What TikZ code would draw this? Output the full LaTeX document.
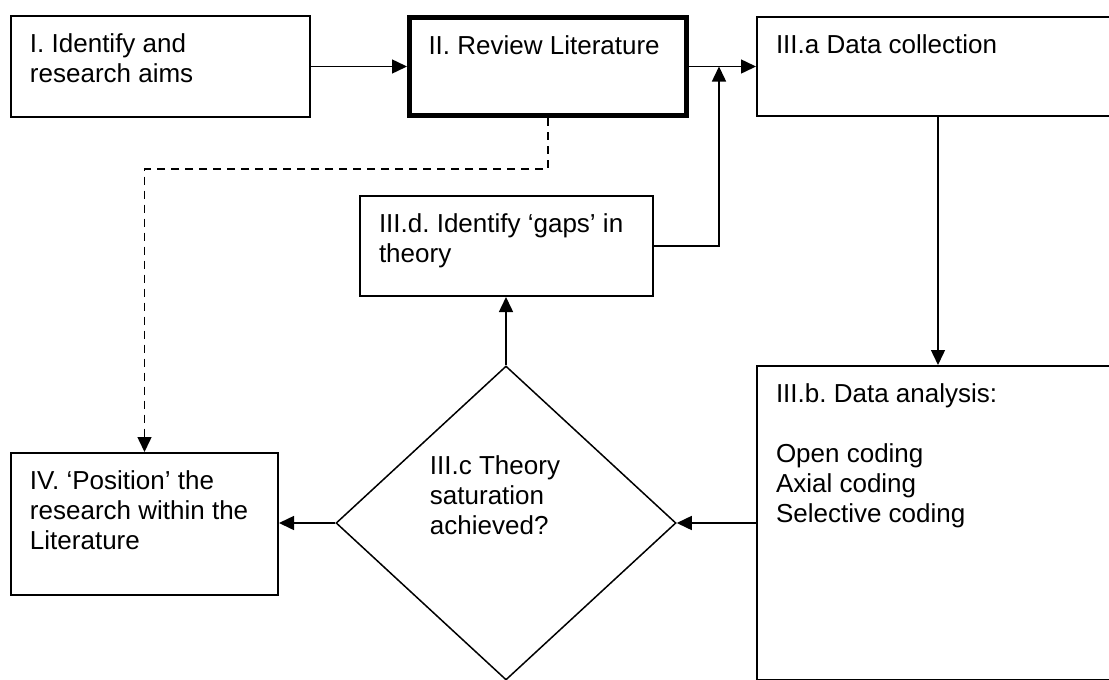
\documentclass[tikz,border=0pt]{standalone}
\usepackage{fontspec}
\setmainfont{Liberation Sans}
\usetikzlibrary{shapes.geometric,arrows.meta}
\frenchspacing
\newcommand{\boxtxt}[3]{\parbox[t][#2][t]{#1}{\raggedright #3}}

\begin{document}
\begin{tikzpicture}[x=1pt,y=-1pt,
  font=\fontsize{26}{30}\selectfont,
  >={Triangle[length=15pt,width=14pt]},
  stepbox/.style={draw,line width=2pt,anchor=north west,inner xsep=19pt,inner ysep=18pt},
  decision/.style={draw,diamond,line width=1.5pt,inner sep=0pt,
   minimum width=340pt,minimum height=314pt},
  flow/.style={->,line width=1.5pt}]
  \useasboundingbox (0,0) rectangle (1109,680);
  \clip (0,0) rectangle (1109,680);
  \node[stepbox] (aims) at (10,15) 
   {\boxtxt{261pt}{65pt}{I. Identify and\\research aims}};
  \node[stepbox,line width=5pt] (lit) at (407,15) 
   {\boxtxt{239pt}{62pt}{II. Review Literature}};
  \node[stepbox] (coll) at (756,16) 
   {\boxtxt{324pt}{63pt}{III.a Data collection}};
  \node[stepbox] (gaps) at (359,195) 
   {\boxtxt{255pt}{64pt}{III.d. Identify ‘gaps’ in\\theory}};
  \node[stepbox] (ana) at (756,365) 
   {\boxtxt{324pt}{278pt}{III.b. Data analysis:\\[30pt]Open coding\\Axial coding\\Selective coding}};
  \node[stepbox] (pos) at (10,452) 
   {\boxtxt{229pt}{106pt}{IV. ‘Position’ the\\research within the\\Literature}};
  \node[decision] (sat) at (506,523) {};
  \node[align=left] (satq) at (495,495) {III.c Theory\\saturation\\achieved?};
  \coordinate (merge) at (719,66.5);
  \draw[flow] (aims.east) -- (lit.west);
  \draw[flow] (lit.east) -- (lit.east -| coll.west);
  \draw[flow] (gaps.east) -| (merge);
  \draw[flow] (coll.south) -- (ana.north);
  \draw[flow] (ana.west) -- (sat.east);
  \draw[flow] (sat.west) -- (sat.west -| pos.east);
  \draw[flow] (sat.north) -- (sat.north |- gaps.south);
  \draw[flow,dash pattern=on 8pt off 6pt] 
   (lit.south) -- ++(0,51) -| (pos.north);
\end{tikzpicture}
\end{document}
